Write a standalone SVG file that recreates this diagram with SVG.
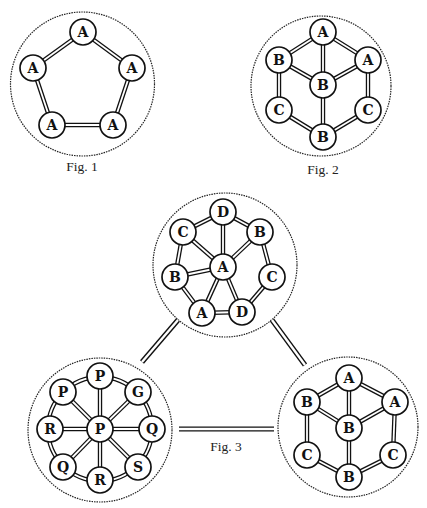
<svg xmlns="http://www.w3.org/2000/svg" xmlns:xlink="http://www.w3.org/1999/xlink" width="427" height="508" viewBox="0 0 427 508">
<style>
.bg{fill:#fff}
.frame{fill:none;stroke:#222;stroke-width:1.2;stroke-dasharray:1.5 1}
.node circle{fill:#fff;stroke:#111;stroke-width:1.7}
.node text{font-family:"DejaVu Serif","Liberation Serif",serif;font-weight:bold;font-size:14px;fill:#111;text-anchor:middle;dominant-baseline:central}
.cap{font-family:"Liberation Serif",serif;font-size:13.5px;fill:#222;text-anchor:middle}
.dbl-o{stroke:#111;stroke-width:4.4;fill:none}
.dbl-i{stroke:#fff;stroke-width:1.8;fill:none}
.big-o{stroke:#111;stroke-width:5.2;fill:none}
.big-i{stroke:#fff;stroke-width:2.4;fill:none}
</style>
<defs>
<g id="e1">
<line x1="83" y1="32" x2="33" y2="68"/><line x1="83" y1="32" x2="132" y2="68"/>
<line x1="33" y1="68" x2="52" y2="125"/><line x1="132" y1="68" x2="113" y2="125"/>
<line x1="52" y1="125" x2="113" y2="125"/>
</g>
<g id="e2">
<line x1="323" y1="32" x2="279" y2="60"/><line x1="323" y1="32" x2="368" y2="60"/>
<line x1="323" y1="32" x2="323" y2="85"/><line x1="279" y1="60" x2="323" y2="85"/>
<line x1="368" y1="60" x2="323" y2="85"/><line x1="279" y1="60" x2="279" y2="110"/>
<line x1="368" y1="60" x2="368" y2="110"/><line x1="323" y1="85" x2="323" y2="137"/>
<line x1="279" y1="110" x2="323" y2="137"/><line x1="368" y1="110" x2="323" y2="137"/>
</g>
<g id="e3">
<line x1="223" y1="212" x2="183" y2="232"/><line x1="223" y1="212" x2="260" y2="232"/>
<line x1="223" y1="212" x2="223" y2="267"/><line x1="183" y1="232" x2="223" y2="267"/>
<line x1="183" y1="232" x2="175" y2="277"/><line x1="260" y1="232" x2="223" y2="267"/>
<line x1="260" y1="232" x2="272" y2="277"/><line x1="175" y1="277" x2="223" y2="267"/>
<line x1="175" y1="277" x2="202" y2="313"/><line x1="223" y1="267" x2="202" y2="313"/>
<line x1="223" y1="267" x2="242" y2="312"/><line x1="272" y1="277" x2="242" y2="312"/>
<line x1="202" y1="313" x2="242" y2="312"/>
</g>
<g id="e4">
<circle cx="100" cy="429" r="52"/>
<line x1="100" y1="429" x2="100" y2="376"/><line x1="100" y1="429" x2="138" y2="392"/>
<line x1="100" y1="429" x2="152" y2="429"/><line x1="100" y1="429" x2="138" y2="467"/>
<line x1="100" y1="429" x2="100" y2="480"/><line x1="100" y1="429" x2="63" y2="467"/>
<line x1="100" y1="429" x2="50" y2="429"/><line x1="100" y1="429" x2="63" y2="392"/>
</g>
<g id="e5">
<line x1="349" y1="378" x2="307" y2="402"/><line x1="349" y1="378" x2="395" y2="402"/>
<line x1="349" y1="378" x2="349" y2="428"/><line x1="307" y1="402" x2="349" y2="428"/>
<line x1="395" y1="402" x2="349" y2="428"/><line x1="307" y1="402" x2="307" y2="455"/>
<line x1="395" y1="402" x2="393" y2="455"/><line x1="349" y1="428" x2="349" y2="477"/>
<line x1="307" y1="455" x2="349" y2="477"/><line x1="393" y1="455" x2="349" y2="477"/>
</g>
<g id="eb">
<line x1="178" y1="320" x2="142" y2="362"/>
<line x1="272" y1="320" x2="305" y2="365"/>
<line x1="179" y1="429" x2="274" y2="429"/>
</g>
</defs>
<rect class="bg" x="0" y="0" width="427" height="508"/>
<g id="frames">
<circle class="frame" cx="82.5" cy="84" r="72"/>
<circle class="frame" cx="321" cy="86" r="70"/>
<circle class="frame" cx="225" cy="265" r="72"/>
<circle class="frame" cx="100" cy="430" r="72"/>
<circle class="frame" cx="348" cy="427" r="70"/>
</g>
<g id="connectors">
<use xlink:href="#e1" class="dbl-o"/><use xlink:href="#e1" class="dbl-i"/>
<use xlink:href="#e2" class="dbl-o"/><use xlink:href="#e2" class="dbl-i"/>
<use xlink:href="#e3" class="dbl-o"/><use xlink:href="#e3" class="dbl-i"/>
<use xlink:href="#e4" class="dbl-o"/><use xlink:href="#e4" class="dbl-i"/>
<use xlink:href="#e5" class="dbl-o"/><use xlink:href="#e5" class="dbl-i"/>
<use xlink:href="#eb" class="big-o"/><use xlink:href="#eb" class="big-i"/>
</g>
<g id="f1-a1" class="node"><circle cx="83" cy="32" r="13"/><text x="83" y="32">A</text></g>
<g id="f1-a2" class="node"><circle cx="33" cy="68" r="13"/><text x="33" y="68">A</text></g>
<g id="f1-a3" class="node"><circle cx="132" cy="68" r="13"/><text x="132" y="68">A</text></g>
<g id="f1-a4" class="node"><circle cx="52" cy="125" r="13"/><text x="52" y="125">A</text></g>
<g id="f1-a5" class="node"><circle cx="113" cy="125" r="13"/><text x="113" y="125">A</text></g>
<g id="f2-a1" class="node"><circle cx="323" cy="32" r="13"/><text x="323" y="32">A</text></g>
<g id="f2-b1" class="node"><circle cx="279" cy="60" r="13"/><text x="279" y="60">B</text></g>
<g id="f2-a2" class="node"><circle cx="368" cy="60" r="13"/><text x="368" y="60">A</text></g>
<g id="f2-b2" class="node"><circle cx="323" cy="85" r="13"/><text x="323" y="85">B</text></g>
<g id="f2-c1" class="node"><circle cx="279" cy="110" r="13"/><text x="279" y="110">C</text></g>
<g id="f2-c2" class="node"><circle cx="368" cy="110" r="13"/><text x="368" y="110">C</text></g>
<g id="f2-b3" class="node"><circle cx="323" cy="137" r="13"/><text x="323" y="137">B</text></g>
<g id="f3t-d1" class="node"><circle cx="223" cy="212" r="13"/><text x="223" y="212">D</text></g>
<g id="f3t-c1" class="node"><circle cx="183" cy="232" r="13"/><text x="183" y="232">C</text></g>
<g id="f3t-b1" class="node"><circle cx="260" cy="232" r="13"/><text x="260" y="232">B</text></g>
<g id="f3t-a1" class="node"><circle cx="223" cy="267" r="13"/><text x="223" y="267">A</text></g>
<g id="f3t-b2" class="node"><circle cx="175" cy="277" r="13"/><text x="175" y="277">B</text></g>
<g id="f3t-c2" class="node"><circle cx="272" cy="277" r="13"/><text x="272" y="277">C</text></g>
<g id="f3t-a2" class="node"><circle cx="202" cy="313" r="13"/><text x="202" y="313">A</text></g>
<g id="f3t-d2" class="node"><circle cx="242" cy="312" r="13"/><text x="242" y="312">D</text></g>
<g id="f3l-p1" class="node"><circle cx="100" cy="376" r="13"/><text x="100" y="376">P</text></g>
<g id="f3l-p2" class="node"><circle cx="63" cy="392" r="13"/><text x="63" y="392">P</text></g>
<g id="f3l-g" class="node"><circle cx="138" cy="392" r="13"/><text x="138" y="392">G</text></g>
<g id="f3l-r1" class="node"><circle cx="50" cy="429" r="13"/><text x="50" y="429">R</text></g>
<g id="f3l-p3" class="node"><circle cx="100" cy="429" r="13"/><text x="100" y="429">P</text></g>
<g id="f3l-q1" class="node"><circle cx="152" cy="429" r="13"/><text x="152" y="429">Q</text></g>
<g id="f3l-q2" class="node"><circle cx="63" cy="467" r="13"/><text x="63" y="467">Q</text></g>
<g id="f3l-s" class="node"><circle cx="138" cy="467" r="13"/><text x="138" y="467">S</text></g>
<g id="f3l-r2" class="node"><circle cx="100" cy="480" r="13"/><text x="100" y="480">R</text></g>
<g id="f3r-a1" class="node"><circle cx="349" cy="378" r="13"/><text x="349" y="378">A</text></g>
<g id="f3r-b1" class="node"><circle cx="307" cy="402" r="13"/><text x="307" y="402">B</text></g>
<g id="f3r-a2" class="node"><circle cx="395" cy="402" r="13"/><text x="395" y="402">A</text></g>
<g id="f3r-b2" class="node"><circle cx="349" cy="428" r="13"/><text x="349" y="428">B</text></g>
<g id="f3r-c1" class="node"><circle cx="307" cy="455" r="13"/><text x="307" y="455">C</text></g>
<g id="f3r-c2" class="node"><circle cx="393" cy="455" r="13"/><text x="393" y="455">C</text></g>
<g id="f3r-b3" class="node"><circle cx="349" cy="477" r="13"/><text x="349" y="477">B</text></g>
<g id="captions">
<text class="cap" x="82" y="171">Fig. 1</text>
<text class="cap" x="323" y="174">Fig. 2</text>
<text class="cap" x="226" y="451">Fig. 3</text>
</g>
</svg>
